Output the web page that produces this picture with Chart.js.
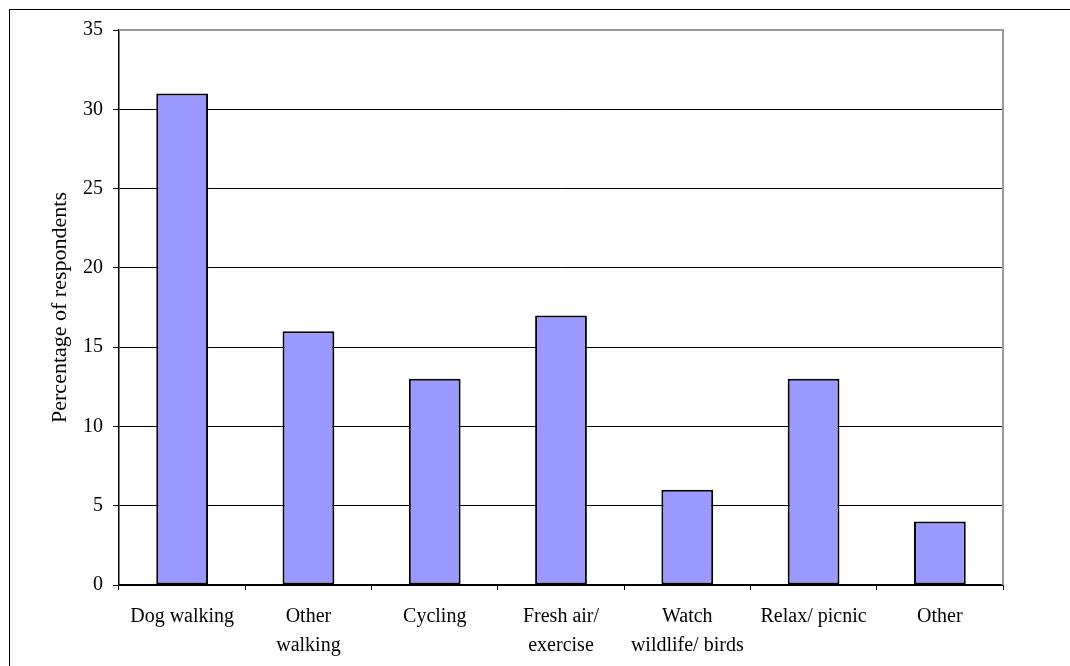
<!DOCTYPE html>
<html>
<head>
<meta charset="utf-8">
<script src="https://cdn.jsdelivr.net/npm/chart.js@4.4.0/dist/chart.umd.min.js"></script>
<style>
  html, body { margin: 0; padding: 0; background: #fff; }
  #wrap { position: relative; width: 1070px; height: 666px; overflow: hidden; }
  #frame { position: absolute; left: 9px; top: 9px; width: 1100px; height: 700px;
           border-left: 1px solid #000; border-top: 1px solid #000; }
  canvas { position: absolute; left: 0; top: 0; }
</style>
</head>
<body>
<div id="wrap">
  <div id="frame"></div>
  <canvas id="chart" width="1070" height="666"></canvas>
</div>
<script>
const categories = [
  'Dog walking',
  ['Other', 'walking'],
  'Cycling',
  ['Fresh air/', 'exercise'],
  ['Watch', 'wildlife/ birds'],
  'Relax/ picnic',
  'Other'
];
const respondentsPct = [31, 16, 13, 17, 6, 13, 4];
const yTicks = [0, 5, 10, 15, 20, 25, 30, 35];

const serif = 'Liberation Serif, Times New Roman, serif';

// gray frame on top and right of the plot, like the original
const plotFrame = {
  id: 'plotFrame',
  beforeDatasetsDraw(chart) {
    const { ctx, chartArea: a } = chart;
    ctx.save();
    ctx.strokeStyle = '#999';
    ctx.lineWidth = 2;
    ctx.beginPath();
    ctx.moveTo(a.left, a.top);
    ctx.lineTo(a.right, a.top);
    ctx.lineTo(a.right, a.bottom);
    ctx.stroke();
    ctx.restore();
  }
};

new Chart(document.getElementById('chart').getContext('2d'), {
  type: 'bar',
  data: {
    labels: categories,
    datasets: [{
      data: respondentsPct,
      backgroundColor: '#9999ff',
      borderColor: '#000',
      borderWidth: 2,
      borderSkipped: false,
      categoryPercentage: 1,
      barPercentage: 0.41
    }]
  },
  options: {
    responsive: false,
    animation: false,
    layout: { padding: { left: 0, top: 30, right: 67, bottom: 0 } },
    plugins: { legend: { display: false }, tooltip: { enabled: false } },
    scales: {
      x: {
        offset: true,
        grid: { offset: true, drawOnChartArea: false, color: '#000', tickLength: 5 },
        border: { color: '#000', width: 1.5 },
        ticks: { color: '#000', padding: 12, maxRotation: 0, autoSkip: false,
                 font: { family: serif, size: 20, lineHeight: 1.45 } },
        afterFit(scale) { scale.height = 81; }
      },
      y: {
        min: 0,
        max: 35,
        afterBuildTicks(scale) { scale.ticks = yTicks.map(v => ({ value: v })); },
        grid: {
          color: ctx => (ctx.tick && ctx.tick.value === 35) ? 'rgba(0,0,0,0)' : '#000',
          lineWidth: 1,
          tickLength: 6,
          tickColor: '#000'
        },
        border: { color: '#000', width: 1.5 },
        ticks: { color: '#000', padding: 10, font: { family: serif, size: 20 } },
        title: {
          display: true,
          text: 'Percentage of respondents',
          color: '#000',
          padding: { top: 47, bottom: 0 },
          font: { family: serif, size: 22 }
        },
        afterFit(scale) { scale.width = 119; }
      }
    }
  },
  plugins: [plotFrame]
});
</script>
</body>
</html>
